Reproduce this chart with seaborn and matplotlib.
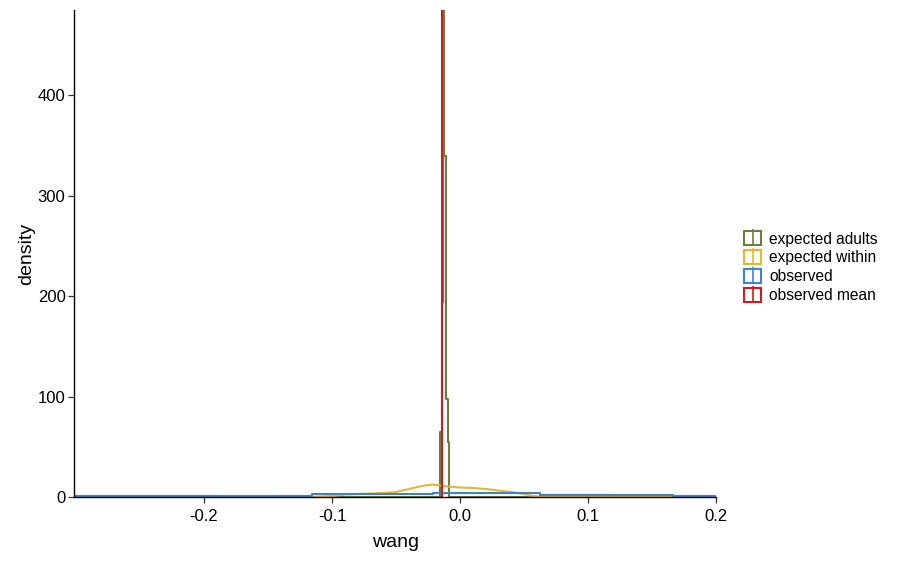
import numpy as np
import pandas as pd
import matplotlib
matplotlib.use("Agg")
import matplotlib.pyplot as plt
import seaborn as sns
from matplotlib.patches import Rectangle
from matplotlib.lines import Line2D
from matplotlib.legend_handler import HandlerTuple

# ---------------------------------------------------------------
# values
# ---------------------------------------------------------------
series_names = ["expected adults", "expected within", "observed", "observed mean"]
series_colors = ["#6E7D3E", "#E3B634", "#3D85C6", "#C8201E"]

# expected adults: histogram outline (bin edges + bar heights)
adult_edges = [-0.3016, -0.1875, -0.142, -0.116, -0.0156, -0.0143, -0.0137,
               -0.0123, -0.0112, -0.0096, -0.0088, 0.0625, 0.12, 0.166, 0.2]
adult_heights = [0.8, 0, 1.5, 0, 65, 194, 485, 340, 98, 55, 0, 2.0, 0, 1.0]

# expected within: smooth density curve
within_x = [-0.30, -0.12, -0.10, -0.09, -0.08, -0.07, -0.06, -0.05, -0.04, -0.03,
            -0.022, -0.015, -0.01, 0.0, 0.01, 0.02, 0.03, 0.04, 0.05, 0.055, 0.06,
            0.07, 0.20]
within_y = [0, 0, 1.0, 2.5, 3.0, 3.5, 4.0, 5.0, 8.0, 11.0,
            12.5, 11.5, 10.5, 9.5, 9.0, 8.0, 6.5, 5.0, 3.0, 1.5, 0.5,
            0, 0]

# observed: histogram outline
obs_edges = [-0.3016, -0.1875, -0.142, -0.116, -0.088, -0.021, 0.0625, 0.166, 0.2]
obs_heights = [0.8, 1.5, 1.5, 3.0, 3.5, 4.5, 2.5, 1.0]

# observed mean
obs_mean = -0.0138

x_ticks = [-0.2, -0.1, 0.0, 0.1, 0.2]
x_tick_labels = ["-0.2", "-0.1", "0.0", "0.1", "0.2"]
y_ticks = [0, 100, 200, 300, 400]

#================================================================
sns.set_style("ticks")
plt.rcParams["font.family"] = ["Liberation Sans", "DejaVu Sans"]
plt.rcParams["text.color"] = "black"
plt.rcParams["axes.labelcolor"] = "black"

fig = plt.figure(figsize=(9.01, 5.61), dpi=100)
ax = fig.add_axes([0.082, 0.114, 0.713, 0.868])

lw = 1.5

def centers(edges):
    e = np.asarray(edges)
    return (e[:-1] + e[1:]) / 2

sns.histplot(x=centers(adult_edges), weights=adult_heights, bins=adult_edges,
             stat="count", element="step", fill=False, color=series_colors[0],
             linewidth=lw, ax=ax)

sns.lineplot(x=within_x, y=within_y, color=series_colors[1], linewidth=lw,
             sort=False, ax=ax)

sns.histplot(x=centers(obs_edges), weights=obs_heights, bins=obs_edges,
             stat="count", element="step", fill=False, color=series_colors[2],
             linewidth=lw, ax=ax)

ax.axvline(obs_mean, color=series_colors[3], linewidth=lw)

ax.set_xlim(-0.3016, 0.2)
ax.set_ylim(0, 485)
ax.set_xticks(x_ticks)
ax.set_xticklabels(x_tick_labels)
ax.set_yticks(y_ticks)
ax.tick_params(axis="both", labelsize=12, labelcolor="black", color="#333333",
               length=4, width=0.9)
ax.tick_params(axis="y", pad=2)
ax.tick_params(axis="x", pad=4.5)
ax.set_xlabel("wang", fontsize=14, labelpad=7)
ax.set_ylabel("density", fontsize=14, labelpad=2)
for s in ["top", "right"]:
    ax.spines[s].set_visible(False)
for s in ["left", "bottom"]:
    ax.spines[s].set_color("black")
    ax.spines[s].set_linewidth(1.0)

# legend keys: outlined box with a vertical line through it
handles = []
for c in series_colors:
    box = Rectangle((0, 0), 1, 1, fill=False, edgecolor=c, linewidth=1.5)
    tick = Line2D([], [], color=c, marker="|", linestyle="None",
                  markersize=11.5, markeredgewidth=1.2)
    handles.append((box, tick))

ax.legend(handles, series_names, handler_map={tuple: HandlerTuple(ndivide=1)},
          loc="center left", bbox_to_anchor=(1.034, 0.472), frameon=False,
          fontsize=11.2, handlelength=1.05, handleheight=1.05, labelspacing=0.22,
          handletextpad=0.55, borderaxespad=0)

fig.savefig("out.png", dpi=100)
